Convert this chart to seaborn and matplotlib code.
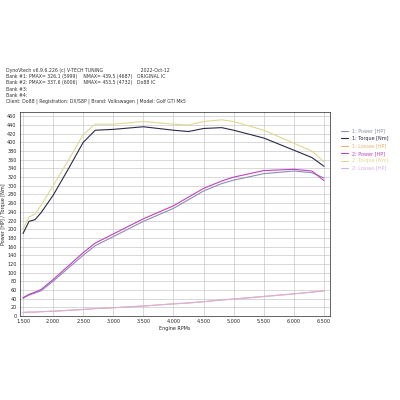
import matplotlib
matplotlib.use("Agg")
import matplotlib.pyplot as plt
import seaborn as sns
import pandas as pd

rpm = [1500, 1600, 1700, 1800, 2000, 2250, 2500, 2700, 3000, 3500, 4000, 4250, 4500, 4800, 5000, 5500, 6000, 6300, 6500]
torque1 = [190, 218, 222, 238, 278, 338, 400, 428, 430, 436, 428, 425, 432, 434, 428, 410, 382, 365, 345]
torque2 = [200, 228, 235, 255, 300, 358, 418, 442, 442, 448, 442, 440, 448, 452, 448, 428, 398, 380, 355]
power1 = [41, 48, 53, 58, 80, 110, 140, 162, 183, 218, 248, 268, 288, 305, 313, 328, 334, 330, 318]
power2 = [42, 50, 55, 61, 84, 115, 146, 168, 189, 224, 254, 274, 294, 311, 320, 335, 338, 334, 312]
losses1 = [8, 9, 9, 10, 11, 13, 15, 17, 19, 23, 28, 30, 33, 37, 39, 45, 51, 55, 58]
losses2 = [8, 9, 9, 10, 11, 13, 15, 17, 19, 23, 28, 30, 33, 37, 39, 45, 51, 55, 58]

series = {
    "1: Power [HP]": (power1, "#8a8fb0"),
    "1: Torque [Nm]": (torque1, "#2a2a4a"),
    "1: Losses [HP]": (losses1, "#e8b070"),
    "2: Power [HP]": (power2, "#c040c0"),
    "2: Torque [Nm]": (torque2, "#e0d890"),
    "2: Losses [HP]": (losses2, "#d8b0e8"),
}

sns.set_style("white")
plt.rcParams['font.family'] = ['DejaVu Sans']
fig = plt.figure(figsize=(4, 4), dpi=100)
ax = fig.add_axes([0.05, 0.21, 0.775, 0.51])
for name, (vals, col) in series.items():
    df = pd.DataFrame({"rpm": rpm, "v": vals})
    sns.lineplot(data=df, x="rpm", y="v", ax=ax, color=col, lw=0.8, label=name)

ax.set_xlim(1450, 6600)
ax.set_ylim(0, 470)
ax.set_xticks(range(1500, 7000, 500))
ax.set_xticklabels([f"{x/1000:.3f}" for x in range(1500, 7000, 500)], fontsize=3.5)
ax.set_yticks(range(0, 470, 20))
ax.tick_params(axis='y', labelsize=3.5, length=1.5, pad=1)
ax.tick_params(axis='x', length=1.5, pad=1)
ax.grid(True, color="#bbbbbb", lw=0.4)
ax.set_xlabel("Engine RPMs", fontsize=3.5, labelpad=1)
ax.set_ylabel("Power [HP] / Torque [Nm]", fontsize=3.5, labelpad=1)
for s in ax.spines.values():
    s.set_linewidth(0.5)
leg = ax.legend(loc="upper left", bbox_to_anchor=(1.02, 0.94), fontsize=3.5, frameon=False, handlelength=1.5)
for t, (name, (vals, col)) in zip(leg.get_texts(), series.items()):
    t.set_color(col)

hdr = ["DynoVtech v6.9.6.226 (c) V-TECH TUNING                         2022-Oct-12",
       "Bank #1: PMAX= 326,1 (5999)    NMAX= 439,5 (4687)   ORIGINAL IC",
       "Bank #2: PMAX= 337,6 (6006)    NMAX= 453,5 (4732)   Do88 IC",
       "Bank #3:", "Bank #4:",
       "Client: Do88 | Registration: DX/S8P | Brand: Volkswagen | Model: Golf GTI Mk5"]
fig.text(0.015, 0.83, "\n".join(hdr), fontsize=3.3, va="top", linespacing=1.3, color="#333333")

fig.savefig("out.png", dpi=100)
